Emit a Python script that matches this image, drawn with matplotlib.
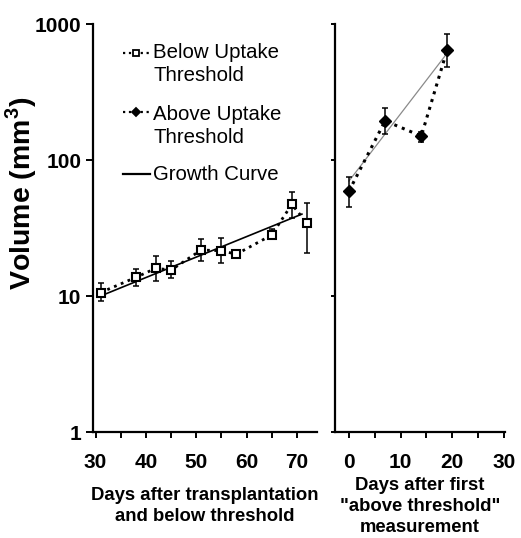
import matplotlib
matplotlib.use('Agg')
import matplotlib.pyplot as plt
from matplotlib.ticker import FixedLocator, NullLocator, NullFormatter

plt.rcParams['font.family'] = ['Liberation Sans', 'DejaVu Sans']
plt.rcParams['mathtext.fontset'] = 'custom'
plt.rcParams['mathtext.bf'] = 'Liberation Sans:bold'
plt.rcParams['mathtext.rm'] = 'Liberation Sans'

# ---- data ----
below_days = [31, 38, 42, 45, 51, 55, 58, 65, 69, 72]
below_vol = [10.6, 13.7, 16.0, 15.5, 21.8, 21.5, 20.3, 28.1, 47.2, 34.3]
below_err_lo = [1.4, 1.8, 3.1, 2.0, 3.7, 3.9, 1.1, 2.0, 9.9, 13.5]
below_err_hi = [1.8, 2.0, 3.7, 2.6, 4.5, 5.1, 0.9, 2.9, 10.7, 13.6]

above_days = [0, 7, 14, 19]
above_vol = [59, 194, 150, 645]
above_err_lo = [14, 40, 14, 160]
above_err_hi = [16, 46, 11, 194]

growth_left_days = [31, 71]
growth_left_vol = [10.0, 40.0]
growth_right_days = [0, 19]
growth_right_vol = [70, 610]

y_ticks = [1, 10, 100, 1000]
y_tick_labels = ['1', '10', '100', '1000']
left_major = [30, 40, 50, 60, 70]
left_minor = [35, 45, 55, 65]
right_major = [0, 10, 20, 30]
right_minor = [5, 15, 25]

W, H = 521, 538
fig = plt.figure(figsize=(W / 100, H / 100), dpi=100)
ax1 = fig.add_axes([93 / W, (H - 432) / H, 224 / W, 408 / H])
ax2 = fig.add_axes([335 / W, (H - 432) / H, 170 / W, 408 / H])

for ax in (ax1, ax2):
    ax.set_yscale('log')
    ax.set_ylim(1, 1000)
    for s in ('top', 'right'):
        ax.spines[s].set_visible(False)
    for s in ('left', 'bottom'):
        ax.spines[s].set_linewidth(1.6)
    ax.yaxis.set_minor_locator(NullLocator())
    ax.yaxis.set_minor_formatter(NullFormatter())
    ax.tick_params(which='both', direction='out', width=1.4)
    ax.tick_params(axis='y', length=5)
    ax.tick_params(axis='x', which='both', length=4, pad=11)

# ---- left panel ----
ax1.errorbar(below_days, below_vol, yerr=[below_err_lo, below_err_hi],
             fmt='none', ecolor='black', elinewidth=1.1, capsize=2.5,
             capthick=1.1, zorder=2)
ax1.plot(below_days, below_vol, linestyle=':', color='black', linewidth=2.0,
         marker='s', markersize=6, markerfacecolor='white',
         markeredgecolor='black', markeredgewidth=1.5, zorder=3)
ax1.plot(growth_left_days, growth_left_vol, color='black', linewidth=1.2,
         zorder=1)
ax1.set_xlim(29.5, 74)
ax1.xaxis.set_major_locator(FixedLocator(left_major))
ax1.xaxis.set_minor_locator(FixedLocator(left_minor))
ax1.set_yticks(y_ticks)
ax1.set_yticklabels(y_tick_labels)
for lab in ax1.get_xticklabels() + ax1.get_yticklabels():
    lab.set_fontsize(15)
    lab.set_fontweight('bold')
ax1.set_ylabel(r'Volume (mm$^{\mathbf{3}}$)', fontsize=20.5,
               fontweight='bold')
ax1.yaxis.set_label_coords(-0.24, 0.586)
ax1.set_xlabel('Days after transplantation\nand below threshold',
               fontsize=13.3, fontweight='bold', labelpad=11, linespacing=1.3)

# ---- legend, drawn by hand so the handle sits on the first text line ----
legend_rows = [
    # (handle y, text lines with their y, marker style)
    (0.930, [('Below Uptake', 0.931), ('Threshold', 0.873)], 's'),
    (0.784, [('Above Uptake', 0.777), ('Threshold', 0.721)], 'D'),
    (0.632, [('Growth Curve', 0.630)], None),
]
for hy, lines, mk in legend_rows:
    if mk is None:
        ax1.plot([0.134, 0.254], [hy, hy], color='black', linewidth=1.6,
                 transform=ax1.transAxes, clip_on=False)
    else:
        ax1.plot([0.134, 0.194, 0.254], [hy, hy, hy], linestyle=':',
                 color='black', linewidth=1.6, marker=mk, markevery=[1],
                 markersize=5 if mk == 's' else 4.5,
                 markerfacecolor='white' if mk == 's' else 'black',
                 markeredgecolor='black', markeredgewidth=1.3,
                 transform=ax1.transAxes, clip_on=False)
    for txt, ty in lines:
        ax1.text(0.268, ty, txt, fontsize=14.7, ha='left', va='center',
                 transform=ax1.transAxes)

# ---- right panel ----
ax2.errorbar(above_days, above_vol, yerr=[above_err_lo, above_err_hi],
             fmt='none', ecolor='black', elinewidth=1.1, capsize=2.5,
             capthick=1.1, zorder=2)
ax2.plot(above_days, above_vol, linestyle=':', color='black', linewidth=2.2,
         marker='D', markersize=6.5, markerfacecolor='black',
         markeredgecolor='black', zorder=3)
ax2.plot(growth_right_days, growth_right_vol, color='#8a8a8a',
         linewidth=0.9, zorder=1)
ax2.set_xlim(-2.7, 30.2)
ax2.xaxis.set_major_locator(FixedLocator(right_major))
ax2.xaxis.set_minor_locator(FixedLocator(right_minor))
ax2.set_yticks(y_ticks)
ax2.set_yticklabels([])
ax2.tick_params(axis='y', length=3)
for lab in ax2.get_xticklabels():
    lab.set_fontsize(15)
    lab.set_fontweight('bold')
ax2.set_xlabel('Days after first\n"above threshold"\nmeasurement',
               fontsize=13.3, fontweight='bold', labelpad=4, linespacing=1.28)

fig.savefig('out.png', dpi=100)
